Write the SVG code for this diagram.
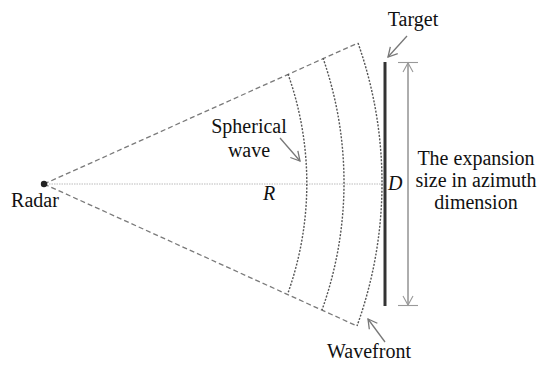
<svg xmlns="http://www.w3.org/2000/svg" width="544" height="370" viewBox="0 0 544 370">
<style>
.t{font-family:'Liberation Serif','Times New Roman','DejaVu Serif',serif;font-size:20px;fill:#111}
.i{font-style:italic}
.dash{stroke:#7a7a7a;stroke-width:1.3;fill:none;stroke-dasharray:5 3}
.dot{stroke:#555;stroke-width:1.4;fill:none;stroke-dasharray:2 1.5}
.ar{stroke:#777;stroke-width:1.3;fill:none}
</style>
<defs>
<marker id="ah" markerWidth="12" markerHeight="12" refX="10" refY="6" orient="auto" markerUnits="userSpaceOnUse">
<path d="M1,1 L10,6 L1,11" fill="none" stroke="#777" stroke-width="1.3"/>
</marker>
<marker id="dh" markerWidth="12" markerHeight="12" refX="10" refY="6" orient="auto" markerUnits="userSpaceOnUse">
<path d="M1,1 L10,6 L1,11" fill="none" stroke="#999" stroke-width="1.1"/>
</marker>
</defs>
<g id="connectors">
<line x1="44" y1="184" x2="383" y2="184" stroke="#bbb" stroke-width="1.2" stroke-dasharray="1.5 1"/>
<line class="dash" x1="44" y1="184" x2="358" y2="43"/>
<line class="dash" x1="44" y1="184" x2="357" y2="326"/>
<path class="dot" d="M288,74 A328,328 0 0 1 288,293"/>
<path class="dot" d="M323,58 A380,380 0 0 1 322,310"/>
<path class="dot" d="M358,43 A421,421 0 0 1 357,326"/>
<line class="ar" x1="407" y1="36" x2="388" y2="57" marker-end="url(#ah)"/>
<line class="ar" x1="385" y1="342" x2="368" y2="319" marker-end="url(#ah)"/>
<line class="ar" x1="280" y1="138" x2="300" y2="161" marker-end="url(#ah)"/>
</g>
<g id="radar">
<circle cx="44" cy="184" r="3.2" fill="#222"/>
<text class="t" font-family="Liberation Serif" x="35" y="207" text-anchor="middle">Radar</text>
</g>
<g id="target">
<line x1="385" y1="62" x2="385" y2="306" stroke="#333" stroke-width="3"/>
<text class="t" x="413" y="26" text-anchor="middle">Target</text>
</g>
<g id="dimension">
<line x1="408" y1="306" x2="408" y2="63" stroke="#999" stroke-width="1.1" marker-end="url(#dh)"/>
<line x1="408" y1="62" x2="408" y2="305" stroke="#999" stroke-width="1.1" marker-end="url(#dh)"/>
<line x1="398" y1="62.5" x2="418" y2="62.5" stroke="#999" stroke-width="1.1"/>
<line x1="398" y1="305.5" x2="418" y2="305.5" stroke="#999" stroke-width="1.1"/>
<text class="t" x="476" y="165" text-anchor="middle">The expansion</text>
<text class="t" x="476" y="187" text-anchor="middle">size in azimuth</text>
<text class="t" x="476" y="209" text-anchor="middle">dimension</text>
</g>
<g id="labels">
<text class="t i" x="388" y="190">D</text>
<text class="t i" x="263" y="200">R</text>
<text class="t" x="249" y="133" text-anchor="middle">Spherical</text>
<text class="t" x="249" y="157" text-anchor="middle">wave</text>
<text class="t" x="369" y="358" text-anchor="middle">Wavefront</text>
</g>
</svg>
